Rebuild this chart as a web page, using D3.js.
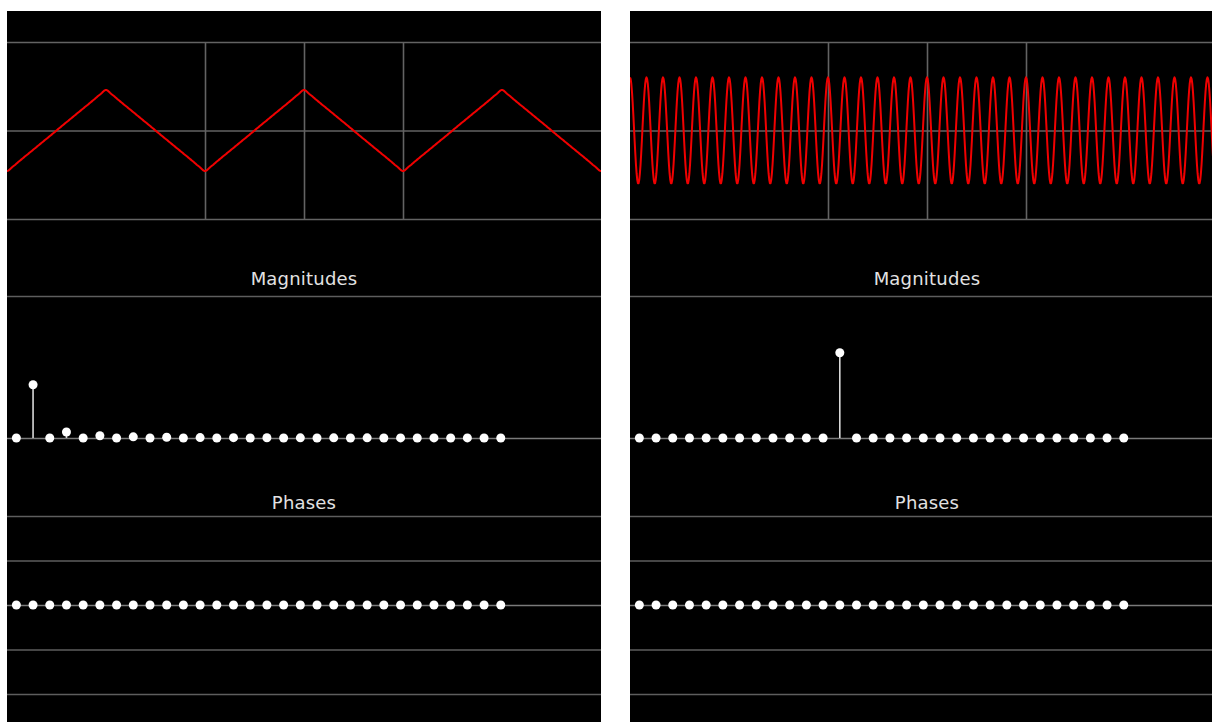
<!DOCTYPE html>
<html>
<head>
<meta charset="utf-8">
<script src="https://cdn.jsdelivr.net/npm/d3@7/dist/d3.min.js"></script>
<style>
  html, body { margin: 0; padding: 0; background: #fff; }
  svg { display: block; }
  .label { font-family: "DejaVu Sans", sans-serif; font-size: 18px; fill: #e2e2e2; letter-spacing: 0.2px; }
</style>
</head>
<body>
<script>
// Harmonic indices shown in the spectrum plots
const harmonics = [0, 1, 2, 3, 4, 5, 6, 7, 8, 9, 10, 11, 12, 13, 14, 15,
                   16, 17, 18, 19, 20, 21, 22, 23, 24, 25, 26, 27, 28, 29];

// Left panel: triangle signal (odd harmonics)
const triangleMagnitudes = [0, 0.375, 0, 0.042, 0, 0.016, 0, 0.008, 0, 0.005, 0, 0.003, 0, 0.0022, 0,
                            0.0017, 0, 0.0013, 0, 0.001, 0, 0.0009, 0, 0.0007, 0, 0.0006, 0, 0.0005, 0, 0.0004];
const trianglePhases = [0, 0, 0, 0, 0, 0, 0, 0, 0, 0, 0, 0, 0, 0, 0,
                        0, 0, 0, 0, 0, 0, 0, 0, 0, 0, 0, 0, 0, 0, 0];

// Right panel: single high harmonic
const toneMagnitudes = [0, 0, 0, 0, 0, 0, 0, 0, 0, 0, 0, 0, 0.6, 0, 0,
                        0, 0, 0, 0, 0, 0, 0, 0, 0, 0, 0, 0, 0, 0, 0];
const tonePhases = [0, 0, 0, 0, 0, 0, 0, 0, 0, 0, 0, 0, 0, 0, 0,
                    0, 0, 0, 0, 0, 0, 0, 0, 0, 0, 0, 0, 0, 0, 0];

// Grid values
const waveGridY = [-1, 0, 1];
const waveGridX = [-1, 0, 1];
const phaseGrid = [-Math.PI, -Math.PI / 2, 0, Math.PI / 2, Math.PI];

const titles = ["Magnitudes", "Phases"];

const W = 1212, H = 722;
const panelW = 594, panelTop = 11;
const panels = [
  { x: 7, mags: triangleMagnitudes, phases: trianglePhases },
  { x: 630, mags: toneMagnitudes, phases: tonePhases }
];

const svg = d3.select("body").append("svg")
  .attr("width", W).attr("height", H);

svg.append("rect").attr("width", W).attr("height", H).attr("fill", "#fff");

const xWave = d3.scaleLinear().domain([-3, 3]).range([0, panelW]);
const yWave = d3.scaleLinear().domain([-1, 1]).range([219, 42]);
const xFreq = d3.scaleLinear().domain([-0.56, 35]).range([0, panelW]);
const yMag = d3.scaleLinear().domain([0, 1]).range([438, 296]);
const yPhase = d3.scaleLinear().domain([-Math.PI, Math.PI]).range([694, 516]);

// time samples across the waveform window
const nSamples = 900;
const times = d3.range(nSamples + 1).map(i => -3 + 6 * i / nSamples);

// sum of the harmonic components at time t
function synth(mags, phases, t) {
  let s = 0;
  for (let i = 0; i < harmonics.length; i++) {
    if (mags[i] !== 0) s += mags[i] * Math.cos(Math.PI * harmonics[i] * t + phases[i]);
  }
  return s;
}

function styleGrid(g, color) {
  g.select(".domain").remove();
  g.selectAll("text").remove();
  g.selectAll(".tick line").attr("stroke", color).attr("stroke-width", 1.6);
}

panels.forEach((p, pi) => {
  const clipId = "clip" + pi;
  svg.append("clipPath").attr("id", clipId)
    .append("rect").attr("x", 0).attr("y", panelTop).attr("width", panelW).attr("height", H - panelTop);

  const g = svg.append("g")
    .attr("transform", `translate(${p.x},0)`)
    .attr("clip-path", `url(#${clipId})`);

  g.append("rect")
    .attr("x", 0).attr("y", panelTop)
    .attr("width", panelW).attr("height", H - panelTop)
    .attr("fill", "#000");

  // waveform grid
  g.append("g")
    .call(d3.axisLeft(yWave).tickValues(waveGridY).tickSize(-panelW))
    .call(a => styleGrid(a, "#636363"));
  g.append("g")
    .attr("transform", `translate(0,${yWave(-1)})`)
    .call(d3.axisBottom(xWave).tickValues(waveGridX).tickSize(yWave(1) - yWave(-1)))
    .call(a => styleGrid(a, "#636363"));

  // synthesized waveform
  const line = d3.line()
    .x(t => xWave(t))
    .y(t => yWave(synth(p.mags, p.phases, t)));
  g.append("path")
    .datum(times)
    .attr("d", line)
    .attr("fill", "none")
    .attr("stroke", "#f00000")
    .attr("stroke-width", 2)
    .attr("stroke-linejoin", "round");

  // magnitudes section
  g.append("text").attr("class", "label")
    .attr("x", panelW / 2).attr("y", 285)
    .attr("text-anchor", "middle").text(titles[0]);

  g.append("g")
    .call(d3.axisLeft(yMag).tickValues([1]).tickSize(-panelW))
    .call(a => styleGrid(a, "#5e5e5e"));
  g.append("g")
    .call(d3.axisLeft(yMag).tickValues([0]).tickSize(-panelW))
    .call(a => styleGrid(a, "#7a7a7a"));

  g.append("g").selectAll("line")
    .data(harmonics)
    .join("line")
    .attr("x1", (d) => xFreq(d)).attr("x2", (d) => xFreq(d))
    .attr("y1", yMag(0))
    .attr("y2", (d, i) => yMag(p.mags[i]))
    .attr("stroke", "#d8d8d8")
    .attr("stroke-width", 1.6);

  g.append("g").selectAll("circle")
    .data(harmonics)
    .join("circle")
    .attr("cx", d => xFreq(d))
    .attr("cy", (d, i) => yMag(p.mags[i]))
    .attr("r", 4.5)
    .attr("fill", "#fff");

  // phases section
  g.append("text").attr("class", "label")
    .attr("x", panelW / 2).attr("y", 509)
    .attr("text-anchor", "middle").text(titles[1]);

  g.append("g")
    .call(d3.axisLeft(yPhase).tickValues(phaseGrid.filter(v => v !== 0)).tickSize(-panelW))
    .call(a => styleGrid(a, "#5e5e5e"));
  g.append("g")
    .call(d3.axisLeft(yPhase).tickValues([0]).tickSize(-panelW))
    .call(a => styleGrid(a, "#7a7a7a"));

  g.append("g").selectAll("circle")
    .data(harmonics)
    .join("circle")
    .attr("cx", d => xFreq(d))
    .attr("cy", (d, i) => yPhase(p.phases[i]))
    .attr("r", 4.5)
    .attr("fill", "#fff");
});
</script>
</body>
</html>
